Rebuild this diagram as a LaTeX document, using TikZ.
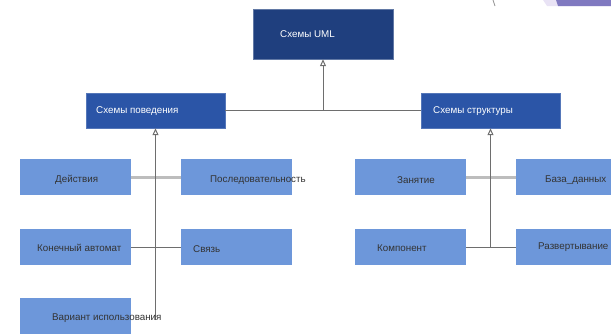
\documentclass[tikz,border=0pt]{standalone}
\usepackage{fontspec}
\setmainfont{Liberation Sans}
\usetikzlibrary{arrows.meta}
\definecolor{topblue}{HTML}{1F3F7E}
\definecolor{midblue}{HTML}{2B55A7}
\definecolor{leafblue}{HTML}{6D97DA}
\definecolor{linegrey}{HTML}{6E6E6E}
\definecolor{lightgrey}{HTML}{BDBDBD}
\definecolor{lavender}{HTML}{E9E3F5}
\definecolor{purp}{HTML}{8079C0}
\tikzset{
  topbox/.style={rectangle, fill=topblue, draw=topblue!70, minimum width=140pt, minimum height=50pt, inner sep=0pt},
  midbox/.style={rectangle, fill=midblue, draw=midblue!80, minimum width=139pt, minimum height=35pt, inner sep=0pt},
  leafbox/.style={rectangle, fill=leafblue, minimum width=111pt, minimum height=36pt, inner sep=0pt},
  wtext/.style={text=white, font=\fontsize{9.8}{11}\selectfont, inner sep=0pt, anchor=west},
  dtext/.style={text=black!80, font=\fontsize{9.8}{11}\selectfont, inner sep=0pt, anchor=west},
  inherit/.style={draw=linegrey, line width=1pt, -{Triangle[open, length=7pt, width=6pt]}},
  darkline/.style={draw=linegrey, line width=1pt},
  paleline/.style={draw=lightgrey, line width=3pt},
}
\begin{document}
\begin{tikzpicture}[x=1pt, y=-1pt]
\useasboundingbox (0,0) rectangle (611,333);
% decoration top right
\fill[lavender] (543,0) -- (611,0) -- (611,6) -- (547,6) -- cycle;
\fill[purp] (556,0) -- (611,0) -- (611,6) -- (558,6) -- cycle;
\draw[lightgrey!80!black, line width=0.8pt] (493,0) -- (495,6);

% boxes
\node[topbox] (uml) at (323,34) {};
\node[midbox] (beh) at (155.5,110.5) {};
\node[midbox] (str) at (490.5,110.5) {};
\node[leafbox] (act) at (75.5,177) {};
\node[leafbox] (seq) at (236.5,177) {};
\node[leafbox] (fsm) at (75.5,247) {};
\node[leafbox] (link) at (236.5,247) {};
\node[leafbox] (usec) at (75.5,316) {};
\node[leafbox] (cls) at (410.5,177) {};
\node[leafbox] (db) at (571.5,177) {};
\node[leafbox] (comp) at (410.5,247) {};
\node[leafbox] (depl) at (571.5,247) {};

% connectors
\coordinate (jtop) at (323,110.5);
\coordinate (bend) at (155.5,320);
\coordinate (send) at (490.5,247);
\draw[darkline] (beh) -- (str);
\draw[paleline] (act) -- (seq);
\draw[paleline] (cls) -- (db);
\draw[darkline] (fsm) -- (link);
\draw[darkline] (comp) -- (depl);
\draw[inherit] (jtop) -- (uml.south);
\draw[inherit] (bend) -- (beh.south);
\draw[inherit] (send) -- (str.south);

% texts
\node[wtext] (tuml) at (280,34) {Схемы UML};
\node[wtext] (tbeh) at (96,111) {Схемы поведения};
\node[wtext] (tstr) at (433,111) {Схемы структуры};
\node[dtext] (tact) at (55,180) {Действия};
\node[dtext] (tseq) at (210,180) {Последовательность};
\node[dtext] (tfsm) at (37,248) {Конечный автомат};
\node[dtext] (tlink) at (193,249) {Связь};
\node[dtext] (tusec) at (52,318) {Вариант использования};
\node[dtext] (tcls) at (397,180) {Занятие};
\node[dtext] (tdb) at (545,180) {База\_данных};
\node[dtext] (tcomp) at (377,248) {Компонент};
\node[dtext] (tdepl) at (538,247) {Развертывание};
\end{tikzpicture}
\end{document}
